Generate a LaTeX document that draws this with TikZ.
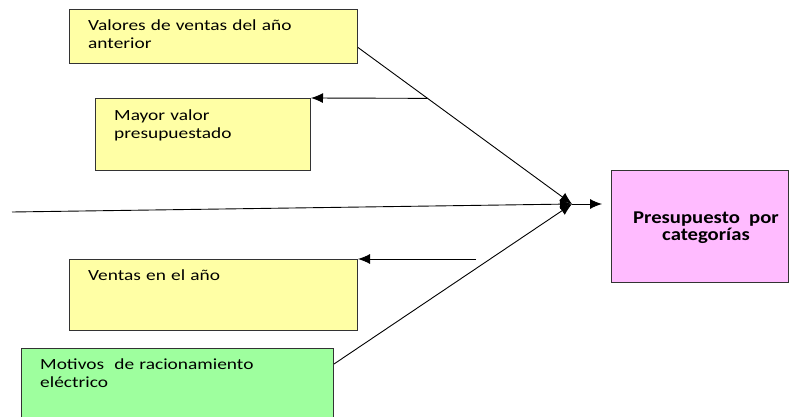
\documentclass[tikz,border=0pt]{standalone}
\usepackage{fontspec}
\setmainfont{Carlito}[UprightFeatures={FakeStretch=1.25},BoldFeatures={FakeStretch=1.15}]
\usetikzlibrary{calc,arrows.meta}
\definecolor{paleyellow}{RGB}{255,255,165}
\definecolor{palegreen}{RGB}{158,255,158}
\definecolor{palepink}{RGB}{255,187,255}

\begin{document}
\begin{tikzpicture}[x=1pt,y=-1pt,
  box/.style={draw=black!80,line width=1pt,anchor=north west,inner sep=0},
  caption/.style={anchor=base west,align=left,inner sep=0,text width=290pt,font=\fontsize{15.5}{18}\selectfont},
  arr/.style={line width=0.9pt,-{Latex[length=12pt,width=10pt]}}]
\useasboundingbox (0,0) rectangle (790,417);
\clip (0,0) rectangle (790,417);

% Input boxes
\node (valores) at (69,9) [box,fill=paleyellow,minimum width=288,minimum height=54] {};
\node[caption] (valorestxt) at ($(valores.north west)+(19,22)$) {Valores de ventas del año\\anterior};
\node (mayor) at (95,98) [box,fill=paleyellow,minimum width=215,minimum height=72] {};
\node[caption] (mayortxt) at ($(mayor.north west)+(19,23)$) {Mayor valor\\presupuestado};
\node (ventas) at (69,259) [box,fill=paleyellow,minimum width=288,minimum height=71] {};
\node[caption] (ventastxt) at ($(ventas.north west)+(19,21)$) {Ventas en el año};
\node (motivos) at (21,348) [box,fill=palegreen,minimum width=312,minimum height=90] {};
\node[caption] (motivostxt) at ($(motivos.north west)+(19,21)$) {Motivos~ de racionamiento\\eléctrico};

% Result
\node (presupuesto) at (611,170) [box,fill=palepink,minimum width=177,minimum height=112] {};
\node (presupuestotxt) at ($(presupuesto.center)+(6,1)$) [align=center,inner sep=0,
  font=\fontsize{18}{17}\selectfont\bfseries] {Presupuesto~ por\\categorías};

% Connectors
\coordinate (meet) at (572,204);
\coordinate (outtip) at (602,204);
\coordinate (vstart) at ($(valores.east)+(0,11)$);
\coordinate (mstart) at ($(motivos.north east)+(0,16)$);
\coordinate (leftend) at (12,212);
\coordinate (split) at ($(vstart)!0.325!(meet)$);
\coordinate (vfree) at (476,259);
\draw[arr] (vstart) -- (meet);
\draw[arr] (leftend) -- (meet);
\draw[arr] (mstart) -- (meet);
\draw[arr] (meet) -- (outtip);
\draw[arr] (split) -- (mayor.north east);
\draw[arr] (vfree) -- (ventas.north east);
\end{tikzpicture}
\end{document}
